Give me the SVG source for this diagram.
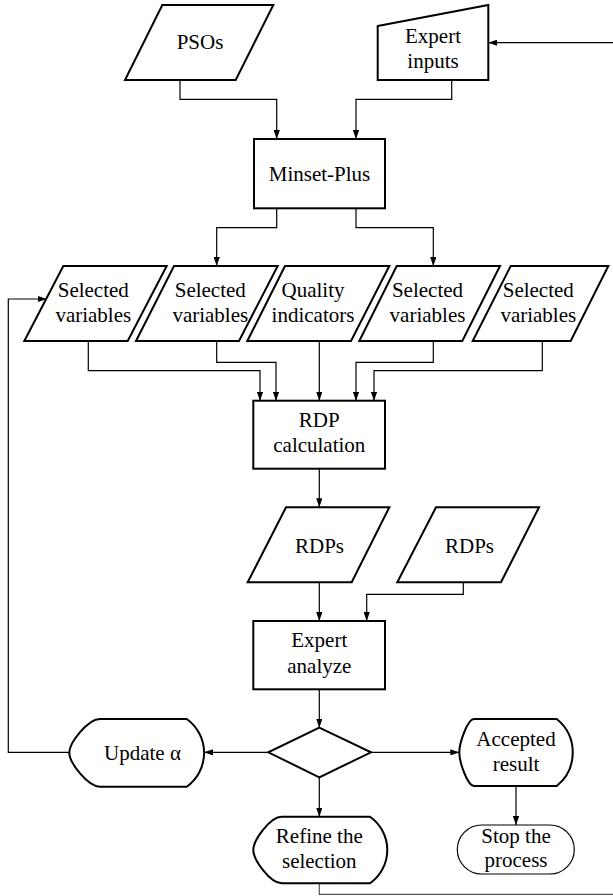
<svg xmlns="http://www.w3.org/2000/svg" width="613" height="896" viewBox="0 0 613 896">
<defs>
<marker id="ah" viewBox="0 0 10 7" refX="10" refY="3.5" markerWidth="9" markerHeight="6.3" markerUnits="userSpaceOnUse" orient="auto"><path d="M0,0 L10,3.5 L0,7 z" fill="#000"/></marker>
<style>
.s{fill:#fff;stroke:#000;stroke-width:2;stroke-linejoin:miter}
.thin{fill:#fff;stroke:#000;stroke-width:1.2}
.c{fill:none;stroke:#000;stroke-width:1.2}
.a{marker-end:url(#ah)}
text{font-family:"Liberation Serif","Times New Roman",serif;font-size:21px;fill:#000;text-anchor:middle}
</style>
</defs>
<rect width="613" height="896" fill="#fff"/>
<g id="connectors">
<path class="c a" d="M180,80 V99.3 H276.7 V139"/>
<path class="c a" d="M451.7,80 V99.3 H356 V139"/>
<path class="c a" d="M613,42.7 H488.3"/>
<path class="c a" d="M276.7,208.3 V227.7 H216.7 V266"/>
<path class="c a" d="M356,208.3 V227.7 H433.3 V266"/>
<path class="c a" d="M88.3,341 V370.7 H260 V400.7"/>
<path class="c a" d="M216.7,341 V362.3 H276 V400.7"/>
<path class="c a" d="M319.3,341 V400.7"/>
<path class="c a" d="M433.3,341 V362.3 H356 V400.7"/>
<path class="c a" d="M542.3,341 V370.7 H374 V400.7"/>
<path class="c a" d="M319.3,468.7 V507.3"/>
<path class="c a" d="M319.3,582.3 V621"/>
<path class="c a" d="M463.3,582.3 V594.3 H366.7 V621"/>
<path class="c a" d="M319.3,689.3 V727.7"/>
<path class="c a" d="M268.3,752.3 H204"/>
<path class="c a" d="M69.3,752.3 H8.3 V299 H46.5"/>
<path class="c a" d="M371,752.3 H459.3"/>
<path class="c a" d="M319.3,777.3 V816.7"/>
<path class="c a" d="M516,786 V825"/>
<path class="c" style="stroke:#555" d="M319.3,883.3 V894.3 H613"/>
</g>
<g id="psos">
<polygon class="s" points="162.3,5 273.3,5 235.7,80 125,80"/>
<text x="200" y="49.3">PSOs</text>
</g>
<g id="expert-inputs">
<polygon class="s" points="377.7,26 488.3,5 488.3,80 377.7,80"/>
<text x="433" y="43.3">Expert</text>
<text x="433" y="68">inputs</text>
</g>
<g id="minset-plus">
<rect class="s" x="254" y="139" width="131" height="69.3"/>
<text x="319.5" y="180.5">Minset-Plus</text>
</g>
<g id="sv1">
<polygon class="s" points="63.3,266 166.7,266 127.7,341 24.3,341"/>
<text x="93.3" y="296.7">Selected</text>
<text x="93.3" y="321.7">variables</text>
</g>
<g id="sv2">
<polygon class="s" points="174,266 277.7,266 239,341 136,341"/>
<text x="210.3" y="296.7">Selected</text>
<text x="210.3" y="321.7">variables</text>
</g>
<g id="quality">
<polygon class="s" points="285,266 389.3,266 351,341 247.3,341"/>
<text x="313" y="296.7">Quality</text>
<text x="313" y="321.7">indicators</text>
</g>
<g id="sv3">
<polygon class="s" points="396.7,266 500,266 462.3,341 359.3,341"/>
<text x="427.5" y="296.7">Selected</text>
<text x="427.5" y="321.7">variables</text>
</g>
<g id="sv4">
<polygon class="s" points="510.7,266 608.3,266 570.7,341 472.7,341"/>
<text x="538.3" y="296.7">Selected</text>
<text x="538.3" y="321.7">variables</text>
</g>
<g id="rdp-calc">
<rect class="s" x="253.3" y="400.7" width="131.7" height="68"/>
<text x="319.3" y="426.7">RDP</text>
<text x="319.3" y="452.3">calculation</text>
</g>
<g id="rdps1">
<polygon class="s" points="286,507.3 389.3,507.3 351.7,582.3 247.7,582.3"/>
<text x="319.5" y="553.3">RDPs</text>
</g>
<g id="rdps2">
<polygon class="s" points="436,507.3 539,507.3 501,582.3 397.3,582.3"/>
<text x="469.5" y="553.3">RDPs</text>
</g>
<g id="expert-analyze">
<rect class="s" x="253.3" y="621" width="131.7" height="68.3"/>
<text x="319.3" y="647.3">Expert</text>
<text x="319.3" y="672.7">analyze</text>
</g>
<g id="decision">
<polygon class="s" points="319.3,727.7 371,752.3 319.3,777.3 268.3,752.3"/>
</g>
<g id="update">
<path class="s" d="M100,719 H186.7 A41.6,41.6 0 0 1 186.7,786.7 H100 C87.7,786.7 69.3,762.5 69.3,752.8 C69.3,743 87.7,719 100,719 Z"/>
<text x="142.5" y="760">Update α</text>
</g>
<g id="accepted">
<path class="s" d="M474,719 H556.7 A43,43 0 0 1 556.7,786 H474 C467.7,786 459.3,762.5 459.3,752.5 C459.3,742.5 467.7,719 474,719 Z"/>
<text x="516" y="745.7">Accepted</text>
<text x="516" y="771">result</text>
</g>
<g id="refine">
<path class="s" d="M281.7,816.7 H370 A40.7,40.7 0 0 1 370,883.3 H281.7 C270.3,883.3 253.3,860 253.3,850 C253.3,840 270.3,816.7 281.7,816.7 Z"/>
<text x="319.3" y="842.7">Refine the</text>
<text x="319.3" y="868.3">selection</text>
</g>
<g id="stop">
<rect class="thin" x="457.3" y="825" width="117" height="49" rx="24.5" ry="24.5"/>
<text x="516" y="842.7">Stop the</text>
<text x="516" y="866.7">process</text>
</g>
</svg>
